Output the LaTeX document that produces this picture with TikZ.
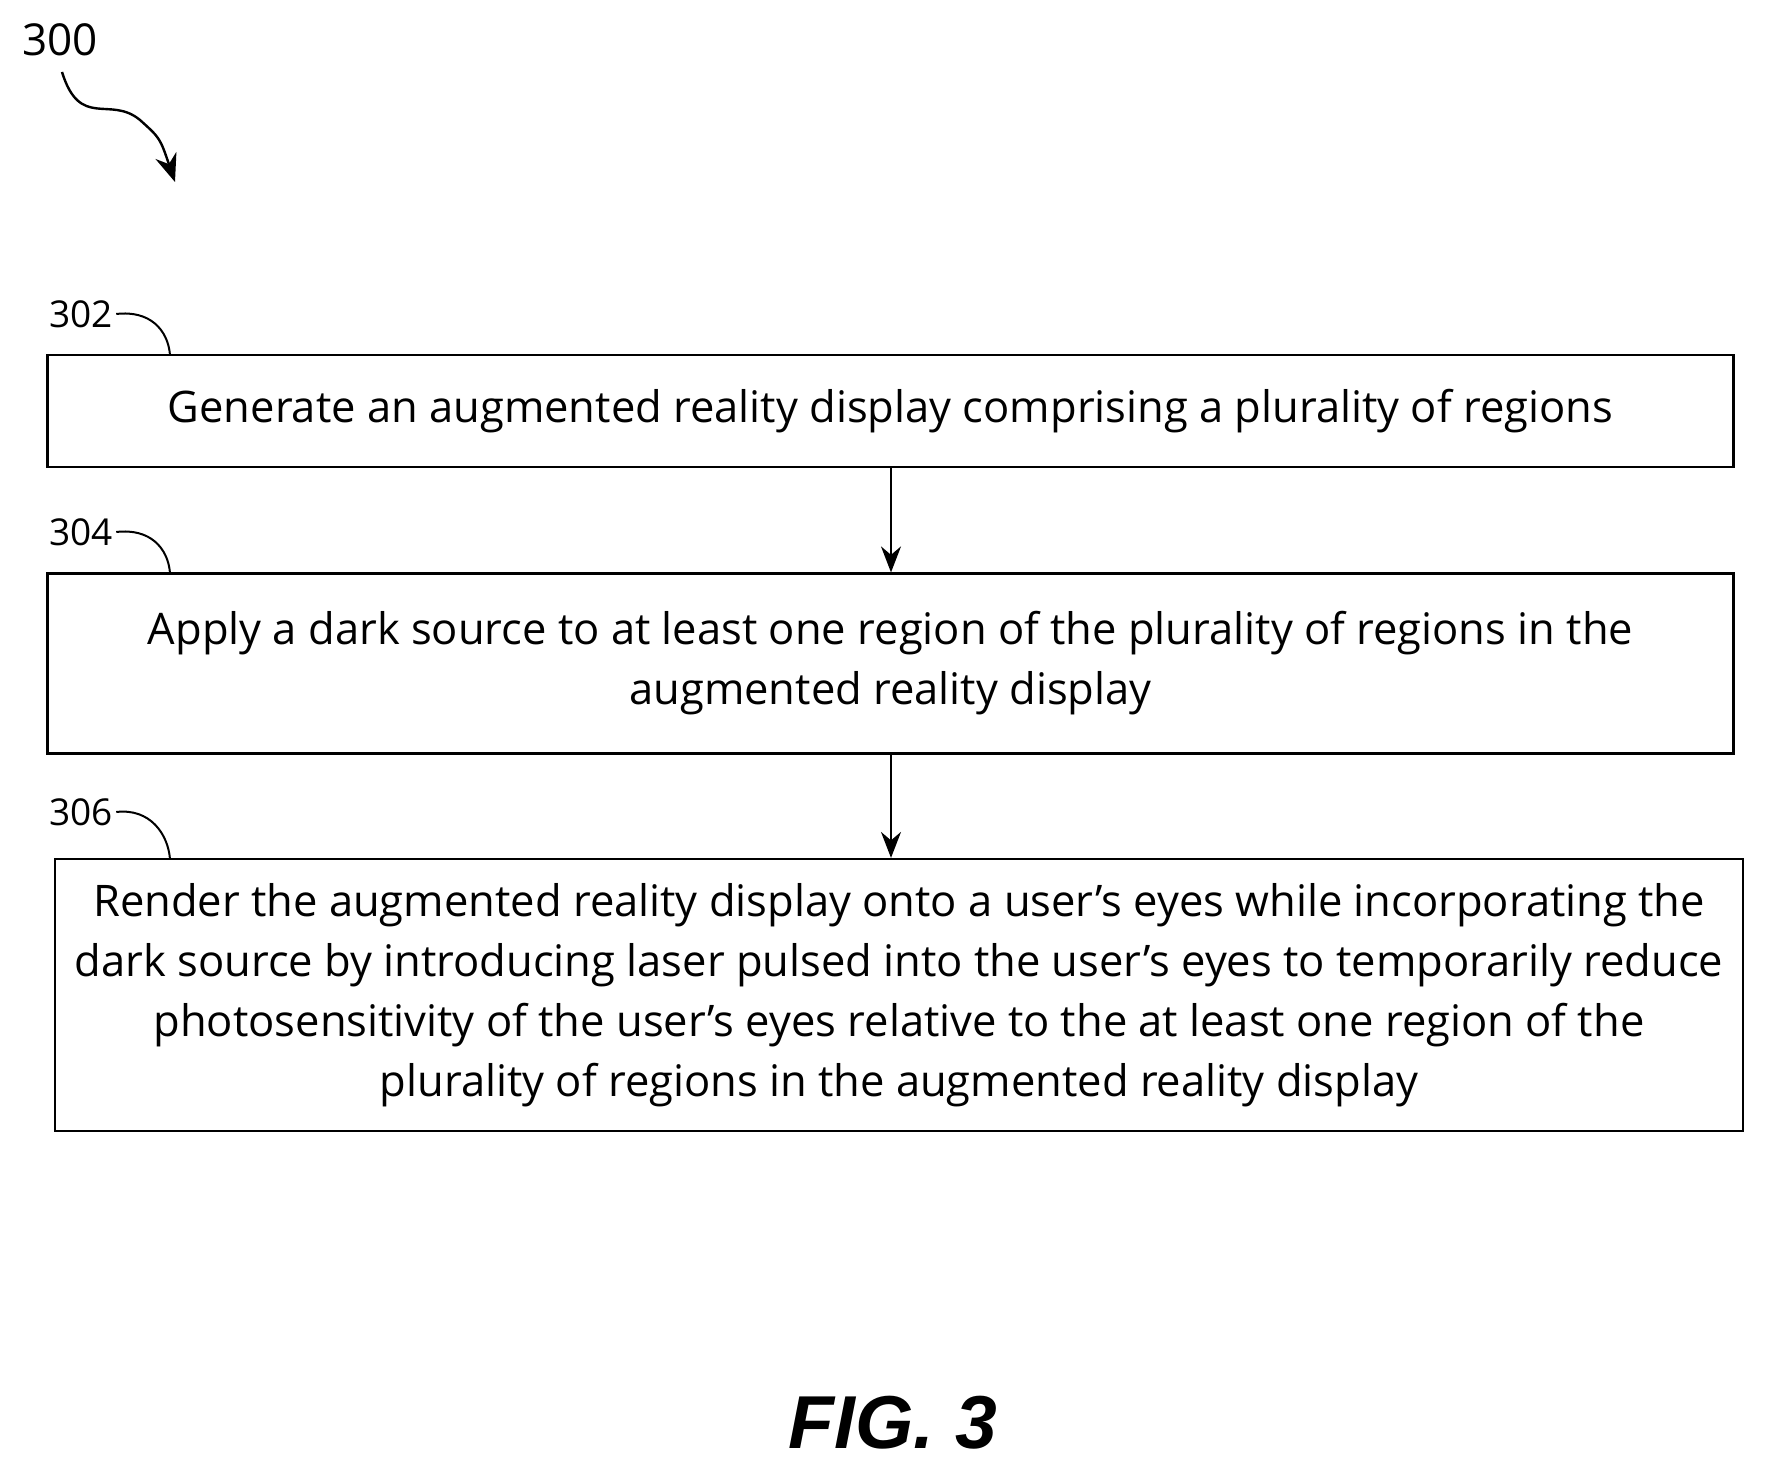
\documentclass[tikz,border=0pt]{standalone}
\usepackage{fontspec}
\setmainfont{Open Sans}
\newfontfamily\figfont{Liberation Sans}
\usetikzlibrary{arrows.meta}
\begin{document}
\begin{tikzpicture}[x=1pt,y=-1pt,
  box/.style={draw,line width=2.2pt,inner sep=0pt,align=center,font=\fontsize{43.5}{60}\selectfont},
  lab/.style={font=\fontsize{37}{40}\selectfont},
  conn/.style={line width=2pt,-{Stealth[length=26pt,width=20pt]}},
  lead/.style={line width=2pt}]
\useasboundingbox (0,0) rectangle (1765,1464);
\node[box,minimum width=1686pt,minimum height=112pt] (b1) at (890.5,411) {Generate an augmented reality display comprising a plurality of regions};
\node[box,minimum width=1686pt,minimum height=180pt] (b2) at (890.5,663.5) {Apply a dark source to at least one region of the plurality of regions in the\\augmented reality display};
\node[box,minimum width=1688pt,minimum height=272pt] (b3) at (899,995) {Render the augmented reality display onto a user’s eyes while incorporating the\\dark source by introducing laser pulsed into the user’s eyes to temporarily reduce\\photosensitivity of the user’s eyes relative to the at least one region of the\\plurality of regions in the augmented reality display};
\draw[conn] (b1.south -| 891,0) -- (b2.north -| 891,0);
\draw[conn] (b2.south -| 891,0) -- (b3.north -| 891,0);
\node[lab] (l302) at (81,314) {302};
\node[lab] (l304) at (81,532) {304};
\node[lab] (l306) at (81,812) {306};
\coordinate (e1) at (170,355);
\coordinate (e2) at (170,573);
\coordinate (e3) at (170,859);
\draw[lead] (l302.east) .. controls (150,310) and (168,330) .. (e1);
\draw[lead] (l304.east) .. controls (150,528) and (168,548) .. (e2);
\draw[lead] (l306.east) .. controls (150,808) and (168,834) .. (e3);
\node[font=\fontsize{44}{48}\selectfont] (l300) at (60,40) {300};
\coordinate (t300) at (175,182);
\draw[line width=2.4pt,-{Stealth[length=28pt,width=22pt]}] (62,72) .. controls (80,130) and (110,95) .. (140,120) .. controls (160,138) .. (t300);
\node[font=\figfont\bfseries\itshape\fontsize{75}{80}\selectfont] (fig) at (893,1423) {FIG. 3};
\end{tikzpicture}
\end{document}
